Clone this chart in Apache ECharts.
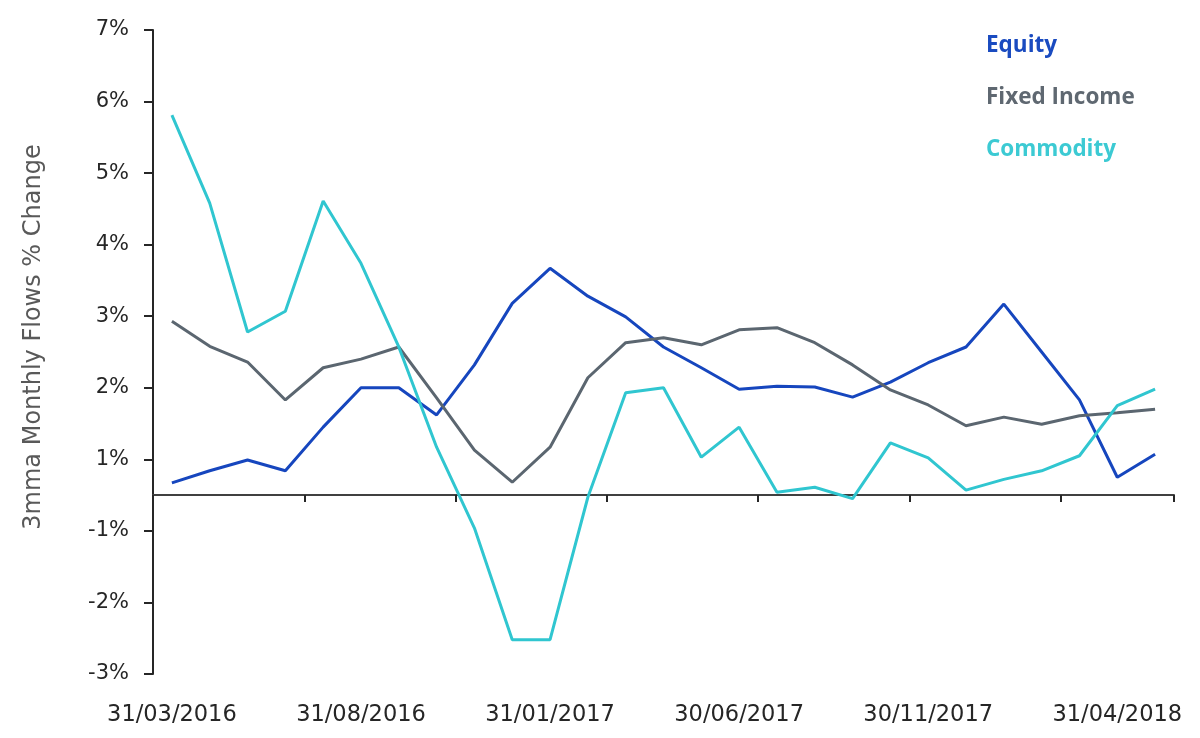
<!DOCTYPE html>
<html>
<head>
<meta charset="UTF-8">
<title>3mma Monthly Flows % Change</title>
<script src="https://cdn.jsdelivr.net/npm/echarts@6/dist/echarts.min.js"></script>
<style>
	html, body { margin: 0; padding: 0; background: #fff; }
	#main { width: 1200px; height: 738px; }
</style>
</head>
<body>
<div id="main"></div>
<script>
	// month ends, Mar 2016 .. May 2018 (labels as printed on the original)
	var months = [
		'31/03/2016', '30/04/2016', '31/05/2016', '30/06/2016', '31/07/2016',
		'31/08/2016', '30/09/2016', '31/10/2016', '30/11/2016', '31/12/2016',
		'31/01/2017', '28/02/2017', '31/03/2017', '30/04/2017', '31/05/2017',
		'30/06/2017', '31/07/2017', '31/08/2017', '30/09/2017', '31/10/2017',
		'30/11/2017', '31/12/2017', '31/01/2018', '28/02/2018', '31/03/2018',
		'31/04/2018', '31/05/2018'
	];

	// values in axis units: 0 = the crossing line, the printed ticks sit at
	// -2.5 .. 6.5 and are labelled -3% .. -1%, 1% .. 7% (no 0% label)
	var equity = [
		0.17, 0.34, 0.49, 0.34, 0.95, 1.50, 1.50, 1.12, 1.82, 2.68,
		3.17, 2.78, 2.49, 2.07, 1.78, 1.48, 1.52, 1.51, 1.37, 1.58,
		1.85, 2.07, 2.67, 2.00, 1.33, 0.25, 0.57
	];
	var fixedIncome = [
		2.43, 2.08, 1.86, 1.33, 1.78, 1.90, 2.07, 1.36, 0.63, 0.18,
		0.67, 1.64, 2.13, 2.20, 2.10, 2.31, 2.34, 2.13, 1.82, 1.47,
		1.26, 0.97, 1.09, 0.99, 1.11, 1.15, 1.20
	];
	var commodity = [
		5.31, 4.08, 2.28, 2.57, 4.11, 3.24, 2.07, 0.67, -0.46, -2.02,
		-2.02, -0.03, 1.43, 1.50, 0.53, 0.95, 0.04, 0.11, -0.05, 0.73,
		0.52, 0.07, 0.22, 0.34, 0.55, 1.25, 1.48
	];

	var seriesNames = ['Equity', 'Fixed Income', 'Commodity'];
	var seriesColors = ['#1646BE', '#5B6670', '#30C6D0'];
	var legendColors = ['#1A4BC0', '#5F6871', '#3CCAD3'];

	var myChart = echarts.init(document.getElementById('main'));

	var axisFont = 'DejaVu Sans';

	var option = {
		backgroundColor: '#fff',
		animation: false,
		grid: {
			left: 153,
			right: 26,
			top: 30,
			bottom: 64
		},
		legend: {
			orient: 'vertical',
			left: 976,
			top: 28,
			icon: 'none',
			itemWidth: 0,
			itemHeight: 0,
			itemGap: 26,
			selectedMode: false,
			textStyle: {
				fontFamily: 'Open Sans',
				fontWeight: 'bold',
				fontSize: 22.5,
				lineHeight: 26
			},
			data: seriesNames.map(function (n, i) {
				return { name: n, textStyle: { color: legendColors[i] } };
			})
		},
		xAxis: [
			{
				// the line through zero, with its ticks
				type: 'category',
				position: 'bottom',
				data: months,
				boundaryGap: true,
				axisLine: {
					show: true,
					onZero: true,
					lineStyle: { color: '#404040', width: 2 }
				},
				axisTick: {
					show: true,
					interval: 3,
					alignWithLabel: false,
					length: 7,
					lineStyle: { color: '#262626', width: 2 }
				},
				axisLabel: { show: false },
				splitLine: { show: false }
			},
			{
				// date labels along the bottom
				type: 'category',
				position: 'bottom',
				data: months,
				boundaryGap: true,
				axisLine: { show: false, onZero: false },
				axisTick: { show: false },
				axisLabel: {
					interval: 4,
					margin: 30,
					color: '#262626',
					fontFamily: axisFont,
					fontSize: 22.5
				},
				splitLine: { show: false }
			}
		],
		yAxis: {
			type: 'value',
			min: -2.5,
			max: 6.5,
			interval: 1,
			name: '3mma Monthly Flows % Change',
			nameLocation: 'middle',
			nameRotate: 90,
			nameGap: 107,
			nameTextStyle: {
				color: '#595959',
				fontFamily: axisFont,
				fontSize: 24,
				padding: [0, 0, 0, 30]
			},
			axisLine: {
				show: true,
				lineStyle: { color: '#262626', width: 2 }
			},
			axisTick: {
				show: true,
				length: 9,
				lineStyle: { color: '#262626', width: 2 }
			},
			axisLabel: {
				margin: 24,
				color: '#262626',
				fontFamily: axisFont,
				fontSize: 21,
				formatter: function (v) {
					var p = v > 0 ? v + 0.5 : v - 0.5;
					return Math.round(p) + '%';
				}
			},
			splitLine: { show: false }
		},
		series: [
			{
				name: seriesNames[0],
				type: 'line',
				data: equity,
				symbol: 'none',
				color: seriesColors[0],
				lineStyle: { width: 3, color: seriesColors[0] }
			},
			{
				name: seriesNames[1],
				type: 'line',
				data: fixedIncome,
				symbol: 'none',
				color: seriesColors[1],
				lineStyle: { width: 3, color: seriesColors[1] }
			},
			{
				name: seriesNames[2],
				type: 'line',
				data: commodity,
				symbol: 'none',
				color: seriesColors[2],
				lineStyle: { width: 3, color: seriesColors[2] }
			}
		]
	};

	myChart.setOption(option);
</script>
</body>
</html>
